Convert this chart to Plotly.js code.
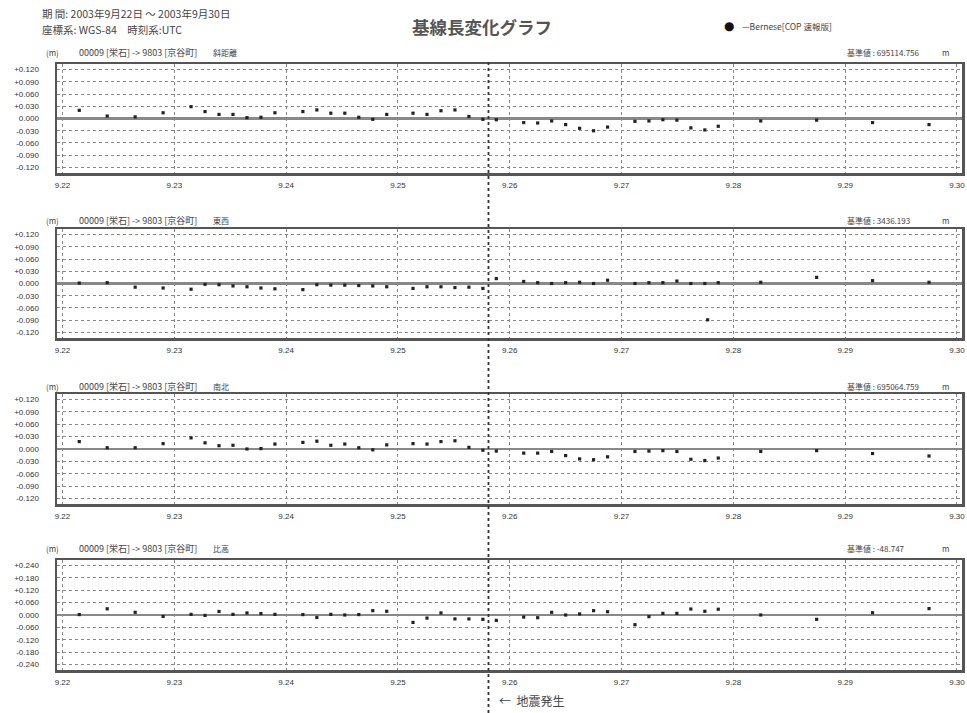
<!DOCTYPE html>
<html><head><meta charset="utf-8">
<script src="https://cdn.plot.ly/plotly-3.0.1.min.js"></script>
<style>html,body{margin:0;padding:0;background:#fff}#chart{width:967px;height:713px}</style>
</head><body><div id="chart"></div><script>
// observation epochs (day of September 2003, UTC)
const times = [22.15, 22.40, 22.65, 22.90,
  23.15, 23.275, 23.40, 23.525, 23.65, 23.775, 23.90,
  24.15, 24.275, 24.40, 24.525, 24.65, 24.775, 24.90,
  25.135, 25.26, 25.385, 25.51, 25.635, 25.76, 25.88,
  26.125, 26.25, 26.375, 26.50, 26.625, 26.75, 26.875,
  27.12, 27.245, 27.37, 27.495, 27.62, 27.745, 27.865,
  28.245, 28.745, 29.245, 29.75];
// 斜距離 (m)
const slopeDist = [0.020, 0.006, 0.004, 0.014,
  0.029, 0.017, 0.010, 0.010, 0.002, 0.003, 0.014,
  0.017, 0.021, 0.013, 0.013, 0.003, -0.002, 0.010,
  0.013, 0.010, 0.019, 0.021, 0.005, -0.002, -0.003,
  -0.010, -0.011, -0.006, -0.015, -0.024, -0.030, -0.021,
  -0.007, -0.006, -0.003, -0.004, -0.023, -0.028, -0.019,
  -0.006, -0.004, -0.010, -0.015];
// 東西 (m)
const eastWest = [0.001, 0.002, -0.009, -0.011,
  -0.014, -0.002, -0.003, -0.006, -0.008, -0.011, -0.013,
  -0.015, -0.003, -0.004, -0.004, -0.005, -0.006, -0.008,
  -0.012, -0.008, -0.008, -0.010, -0.009, -0.012, 0.012,
  0.005, 0.002, 0.000, 0.002, 0.003, 0.000, 0.008,
  0.000, 0.002, 0.002, 0.006, 0.000, 0.000, 0.002,
  0.003, 0.015, 0.007, 0.003];
const ewOutlierT = [27.77];
const ewOutlierV = [-0.089];
// 南北 (m)
const northSouth = [0.018, 0.003, 0.003, 0.013,
  0.027, 0.015, 0.008, 0.009, 0.000, 0.001, 0.012,
  0.016, 0.019, 0.009, 0.012, 0.003, -0.002, 0.010,
  0.013, 0.012, 0.018, 0.020, 0.004, -0.003, -0.005,
  -0.010, -0.010, -0.006, -0.016, -0.024, -0.026, -0.019,
  -0.006, -0.005, -0.004, -0.006, -0.025, -0.028, -0.022,
  -0.006, -0.004, -0.011, -0.017];
// 比高 (m)
const heightDiff = [0.002, 0.030, 0.013, -0.007,
  0.003, -0.002, 0.017, 0.003, 0.010, 0.007, 0.003,
  0.002, -0.012, 0.003, 0.000, 0.002, 0.021, 0.018,
  -0.036, -0.015, 0.010, -0.019, -0.019, -0.021, -0.026,
  -0.010, -0.013, 0.013, 0.000, 0.005, 0.021, 0.016,
  -0.047, -0.008, 0.008, 0.008, 0.029, 0.018, 0.028,
  0.000, -0.021, 0.011, 0.031];

const dayTicks = [22, 23, 24, 25, 26, 27, 28, 29, 30];
const dayLabels = ["9.22", "9.23", "9.24", "9.25", "9.26", "9.27", "9.28", "9.29", "9.30"];
const smallTicks = [-0.12, -0.09, -0.06, -0.03, 0, 0.03, 0.06, 0.09, 0.12];
const smallLabels = ["-0.120", "-0.090", "-0.060", "-0.030", "0.000", "+0.030", "+0.060", "+0.090", "+0.120"];
const bigTicks = [-0.24, -0.18, -0.12, -0.06, 0, 0.06, 0.12, 0.18, 0.24];
const bigLabels = ["-0.240", "-0.180", "-0.120", "-0.060", "0.000", "+0.060", "+0.120", "+0.180", "+0.240"];
const panelNames = ["斜距離", "東西", "南北", "比高"];
const baselineText = "00009 [栄石] -> 9803 [京谷町]";
const baseValues = ["基準値 : 695114.756", "基準値 : 3436.193", "基準値 : 695064.759", "基準値 : -48.747"];
const quakeDay = 25.81;

const H = 967, V = 713;
const px = x => x / H, py = y => 1 - y / V;
const frames = [[64, 173], [229, 338], [394, 504], [560, 670]];
const headerY = [52, 220, 386, 548];
const series = [slopeDist, eastWest, northSouth, heightDiff];
const tickFont = {family: "Liberation Sans, Arial, sans-serif", size: 8, color: "#333"};
const cjk = "Noto Sans CJK JP, sans-serif";

const data = [];
const layout = {
  width: H, height: V, margin: {l: 0, r: 0, t: 0, b: 0},
  paper_bgcolor: "#fff", plot_bgcolor: "#fff", showlegend: false,
  annotations: [], shapes: []
};
series.forEach((vals, i) => {
  const n = i === 0 ? "" : String(i + 1);
  data.push({x: times, y: vals, xaxis: "x" + n, yaxis: "y" + n, type: "scatter", mode: "markers",
    marker: {symbol: "square", size: 3.2, color: "#222"}, hoverinfo: "x+y"});
  const big = i === 3;
  layout["xaxis" + n] = {
    domain: [px(57), px(962)], range: [21.951, 30.045], anchor: "y" + n,
    tickvals: dayTicks, ticktext: dayLabels, tickfont: tickFont, ticks: "", ticklabelstandoff: 3,
    showgrid: true, gridcolor: "#888", griddash: "dot", gridwidth: 1,
    zeroline: false, showline: true, linecolor: "#555", linewidth: 2.5, mirror: true, fixedrange: true
  };
  const half = big ? 0.2667 : 0.1335;
  layout["yaxis" + n] = {
    domain: [py(frames[i][1]), py(frames[i][0])], range: [-half, half], anchor: "x" + n,
    tickvals: big ? bigTicks : smallTicks, ticktext: big ? bigLabels : smallLabels,
    tickfont: tickFont, ticks: "", ticklabelstandoff: 14,
    showgrid: true, gridcolor: "#888", griddash: "dot", gridwidth: 1,
    zeroline: true, zerolinecolor: "#888", zerolinewidth: 2.5,
    showline: true, linecolor: "#555", linewidth: 2.5, mirror: true, fixedrange: true
  };
  const hy = py(headerY[i]);
  const f = {family: cjk, size: 8, color: "#444"};
  const f9 = {family: cjk, size: 9, color: "#444"};
  layout.annotations.push(
    {xref: "paper", yref: "paper", x: px(44), y: hy, xanchor: "left", yanchor: "middle", text: "(m)", showarrow: false, font: f},
    {xref: "paper", yref: "paper", x: px(77), y: hy, xanchor: "left", yanchor: "middle", text: baselineText, showarrow: false, font: f9},
    {xref: "paper", yref: "paper", x: px(211), y: hy, xanchor: "left", yanchor: "middle", text: panelNames[i], showarrow: false, font: f},
    {xref: "paper", yref: "paper", x: px(845), y: hy, xanchor: "left", yanchor: "middle", text: baseValues[i], showarrow: false, font: f},
    {xref: "paper", yref: "paper", x: px(945), y: hy, xanchor: "center", yanchor: "middle", text: "m", showarrow: false, font: f}
  );
});
data.push({x: ewOutlierT, y: ewOutlierV, xaxis: "x2", yaxis: "y2", type: "scatter", mode: "markers",
  marker: {symbol: "square", size: 3.2, color: "#222"}, hoverinfo: "x+y"});

layout.shapes.push({type: "line", xref: "x", yref: "paper", x0: quakeDay, x1: quakeDay, y0: 0, y1: py(60),
  line: {color: "#333", width: 1.8, dash: "3px,3px"}});

const hf = {family: cjk, size: 10.5, color: "#444"};
layout.annotations.push(
  {xref: "paper", yref: "paper", x: px(40), y: py(14), xanchor: "left", yanchor: "middle", text: "期 間: 2003年9月22日 ～ 2003年9月30日", showarrow: false, font: hf},
  {xref: "paper", yref: "paper", x: px(40), y: py(30), xanchor: "left", yanchor: "middle", text: "座標系: WGS-84　時刻系:UTC", showarrow: false, font: hf},
  {xref: "paper", yref: "paper", x: px(482), y: py(26), xanchor: "center", yanchor: "middle", text: "<b>基線長変化グラフ</b>", showarrow: false, font: {family: cjk, size: 17.5, color: "#555"}},
  {xref: "paper", yref: "paper", x: px(729), y: py(26), xanchor: "center", yanchor: "middle", text: "●", showarrow: false, font: {family: "DejaVu Sans", size: 12, color: "#111"}},
  {xref: "paper", yref: "paper", x: px(740), y: py(26), xanchor: "left", yanchor: "middle", text: "—Bernese[COP 速報版]", showarrow: false, font: {family: cjk, size: 8.5, color: "#444"}},
  {xref: "paper", yref: "paper", x: px(497), y: py(700), xanchor: "left", yanchor: "middle", text: "←  地震発生", showarrow: false, font: {family: cjk, size: 12, color: "#444"}}
);

Plotly.newPlot("chart", data, layout, {staticPlot: true, displayModeBar: false});
</script></body></html>
